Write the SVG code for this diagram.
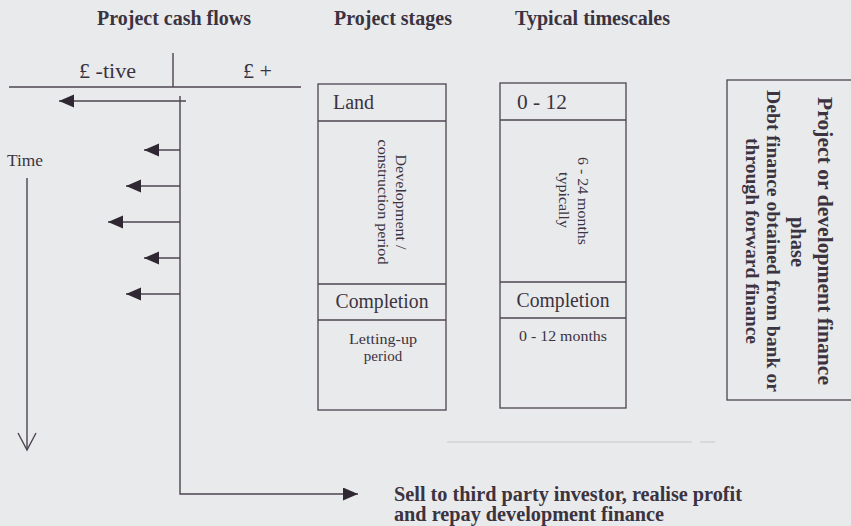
<svg xmlns="http://www.w3.org/2000/svg" width="851" height="526" viewBox="0 0 851 526">
  <style>
    .bg { fill: #e9eaec; }
    .ln { fill: none; stroke: #4d4450; stroke-width: 1.4; }
    .box { fill: none; stroke: #4d4450; stroke-width: 1.3; }
    .t { font-family: "Liberation Serif", "Times New Roman", serif; fill: #3b3340; }
    .h { font-size: 20px; font-weight: bold; }
    .lbl { font-size: 20px; }
    .sm { font-size: 15px; }
    .bd { font-weight: bold; }
    .mid { text-anchor: middle; }
  </style>
  <defs>
    <marker id="head" markerUnits="userSpaceOnUse" markerWidth="16" markerHeight="14" refX="15" refY="6.5" orient="auto">
      <path d="M0,0 L15,6.5 L0,13 Z" fill="#2f2832"/>
    </marker>
    <filter id="soft" x="-10%" y="-200%" width="120%" height="500%">
      <feGaussianBlur stdDeviation="2"/>
    </filter>
  </defs>

  <rect class="bg" x="0" y="0" width="851" height="526"/>

  <!-- column headings -->
  <g id="headings">
    <text class="t h" x="97" y="25">Project cash flows</text>
    <text class="t h" x="334" y="25">Project stages</text>
    <text class="t h" x="515" y="25" textLength="155" lengthAdjust="spacingAndGlyphs">Typical timescales</text>
  </g>

  <!-- cash flow axis -->
  <g id="cashflow-axis">
    <line class="ln" x1="9" y1="87" x2="301" y2="87"/>
    <line class="ln" x1="173" y1="53" x2="173" y2="87"/>
    <text class="t" x="79" y="78" font-size="21" textLength="57" lengthAdjust="spacingAndGlyphs">£ -tive</text>
    <text class="t" x="243" y="78" font-size="21" textLength="29" lengthAdjust="spacingAndGlyphs">£ +</text>
  </g>

  <!-- time axis -->
  <g id="time-axis">
    <text class="t" x="7" y="166" font-size="17" textLength="36" lengthAdjust="spacingAndGlyphs">Time</text>
    <line class="ln" x1="27" y1="178" x2="27" y2="450"/>
    <polyline class="ln" points="18,433 27,450 36,433"/>
  </g>

  <!-- cash flow connectors -->
  <g id="connectors">
    <line class="ln" x1="186" y1="101" x2="59" y2="101" marker-end="url(#head)"/>
    <line class="ln" x1="180" y1="150" x2="144" y2="150" marker-end="url(#head)"/>
    <line class="ln" x1="180" y1="186" x2="126" y2="186" marker-end="url(#head)"/>
    <line class="ln" x1="180" y1="222" x2="108" y2="222" marker-end="url(#head)"/>
    <line class="ln" x1="180" y1="258" x2="144" y2="258" marker-end="url(#head)"/>
    <line class="ln" x1="180" y1="294" x2="126" y2="294" marker-end="url(#head)"/>
    <polyline class="ln" points="180,96 180,494 358,494" marker-end="url(#head)"/>
  </g>

  <!-- project stages column -->
  <g id="stages">
    <rect class="box" x="318" y="84" width="128" height="326"/>
    <line class="box" x1="318" y1="121" x2="446" y2="121"/>
    <line class="box" x1="318" y1="284" x2="446" y2="284"/>
    <line class="box" x1="318" y1="320" x2="446" y2="320"/>
    <text class="t lbl" x="333" y="109">Land</text>
    <text class="t sm mid" transform="translate(396,202) rotate(90)" textLength="95" lengthAdjust="spacingAndGlyphs">Development /</text>
    <text class="t sm mid" transform="translate(378,202) rotate(90)" textLength="125" lengthAdjust="spacingAndGlyphs">construction period</text>
    <text class="t lbl mid" x="382" y="308" textLength="93" lengthAdjust="spacingAndGlyphs">Completion</text>
    <text class="t sm mid" x="383" y="344" textLength="68" lengthAdjust="spacingAndGlyphs">Letting-up</text>
    <text class="t sm mid" x="383" y="361">period</text>
  </g>

  <!-- timescales column -->
  <g id="timescales">
    <rect class="box" x="500" y="83" width="126" height="325"/>
    <line class="box" x1="500" y1="120" x2="626" y2="120"/>
    <line class="box" x1="500" y1="282" x2="626" y2="282"/>
    <line class="box" x1="500" y1="318" x2="626" y2="318"/>
    <text class="t lbl" x="517" y="109" textLength="50" lengthAdjust="spacingAndGlyphs">0 - 12</text>
    <text class="t sm mid" transform="translate(578,201) rotate(90)" textLength="88" lengthAdjust="spacingAndGlyphs">6 - 24 months</text>
    <text class="t sm mid" transform="translate(559,200) rotate(90)" textLength="56" lengthAdjust="spacingAndGlyphs">typically</text>
    <text class="t lbl mid" x="563" y="307" textLength="93" lengthAdjust="spacingAndGlyphs">Completion</text>
    <text class="t sm mid" x="563" y="341" textLength="88" lengthAdjust="spacingAndGlyphs">0 - 12 months</text>
  </g>

  <!-- finance phase panel -->
  <g id="finance-phase">
    <rect class="box" x="727" y="80" width="140" height="320"/>
    <text class="t bd mid" font-size="21" transform="translate(818,241) rotate(90)" textLength="288" lengthAdjust="spacingAndGlyphs">Project or development finance</text>
    <text class="t bd mid" font-size="21" transform="translate(791,242) rotate(90)" textLength="50" lengthAdjust="spacingAndGlyphs">phase</text>
    <text class="t bd mid" font-size="19.5" transform="translate(767,241) rotate(90)" textLength="302" lengthAdjust="spacingAndGlyphs">Debt finance obtained from bank or</text>
    <text class="t bd mid" font-size="19.5" transform="translate(746,241) rotate(90)" textLength="206" lengthAdjust="spacingAndGlyphs">through forward finance</text>
  </g>

  <!-- faint rule below the columns -->
  <g id="rule">
    <line x1="100" y1="446" x2="330" y2="446" stroke="#c9cacd" stroke-width="3" filter="url(#soft)"/>
    <line x1="447" y1="442" x2="692" y2="442" stroke="#d2d3d6" stroke-width="1.5"/>
    <line x1="700" y1="442" x2="715" y2="442" stroke="#d2d3d6" stroke-width="1.5"/>
  </g>

  <!-- outcome -->
  <g id="outcome">
    <text class="t bd" font-size="20" x="394" y="501" textLength="348" lengthAdjust="spacingAndGlyphs">Sell to third party investor, realise profit</text>
    <text class="t bd" font-size="20" x="394" y="521" textLength="270" lengthAdjust="spacingAndGlyphs">and repay development finance</text>
  </g>
</svg>
